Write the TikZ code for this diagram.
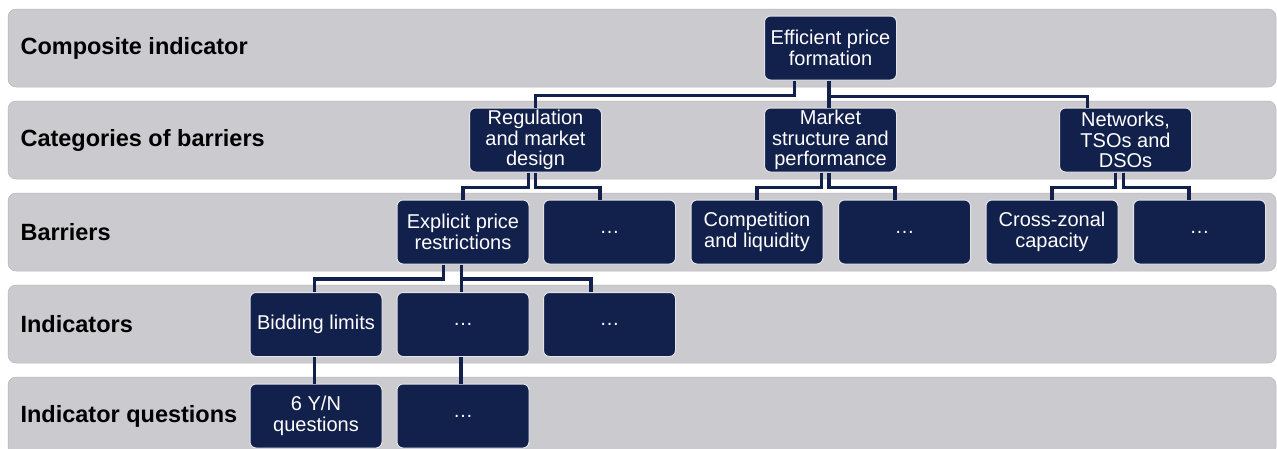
\documentclass[tikz,border=0pt]{standalone}
\usepackage{fontspec}
\setmainfont{Liberation Sans}
\usetikzlibrary{positioning, calc}
\definecolor{bandgray}{RGB}{203, 202, 207}
\definecolor{navy}{RGB}{18, 32, 76}

\begin{document}
\begin{tikzpicture}[x=1pt, y=-1pt,
        band/.style={
            fill=bandgray,
            draw=bandgray!90!black,
            line width=0.5pt,
            rounded corners=8pt
        },
        level/.style={
            anchor=west,
            font=\fontsize{23.5}{25}\selectfont\bfseries,
            text=black
        },
        cell/.style={
            rounded corners=6pt,
            fill=navy,
            draw=white!88!navy,
            line width=1pt,
            text=white,
            minimum width=132pt,
            minimum height=64pt,
            inner sep=1pt,
            align=center,
            font=\fontsize{20}{20.5}\selectfont
        },
        link/.style={draw=navy, line width=3.5pt}
    ]
        \useasboundingbox (0,0) rectangle (1277,448);
        \clip (0,0) rectangle (1277,448);
        \fill[white] (0,0) rectangle (1277,448);

        % grey bands with the level names
        \foreach \texto [count=\n] in {
            Composite indicator,
            Categories of barriers,
            Barriers,
            Indicators,
            Indicator questions
        } {
            \draw[band] (8,{9+92*(\n-1)}) rectangle (1276,{87+92*(\n-1)});
            \node[level] (level\n) at (17,{48+92*(\n-1)}) {\texto};
        }

        % tree boxes
        \node[cell] (efficient) at (830.5,48) {Efficient price\\formation};

        \node[cell] (regulation) at (535.5,140) {Regulation\\and market\\design};
        \node[cell] (structure) at (830.5,140) {Market\\structure and\\performance};
        \node[cell] (networks) at (1125.5,140) {Networks,\\TSOs and\\DSOs};

        \node[cell] (explicit) at (463,232) {Explicit price\\restrictions};
        \node[cell] (barrierA) at (609.5,232) {\dots};
        \node[cell] (competition) at (757,232) {Competition\\and liquidity};
        \node[cell] (barrierB) at (904.5,232) {\dots};
        \node[cell] (crosszonal) at (1052,232) {Cross-zonal\\capacity};
        \node[cell] (barrierC) at (1199.5,232) {\dots};

        \node[cell] (bidding) at (316,324.5) {Bidding limits};
        \node[cell] (indicatorA) at (463,324.5) {\dots};
        \node[cell] (indicatorB) at (609.5,324.5) {\dots};

        \node[cell] (questions) at (316,416) {6 Y/N\\questions};
        \node[cell] (questionsA) at (463,416) {\dots};

        % elbow connectors
        \draw[link] ([xshift=-36pt]efficient.south) -- ++(0,15) -| (regulation.north);
        \draw[link] ([xshift=-1.5pt]efficient.south) -- ([xshift=-1.5pt]structure.north);
        \draw[link] ([xshift=-1.5pt]efficient.south) -- ++(0,16) -| ([xshift=-38pt]networks.north);

        \draw[link] ([xshift=-7pt]regulation.south) -- ++(0,15) -| (explicit.north);
        \draw[link] (regulation.south) -- ++(0,15) -| ([xshift=-9.5pt]barrierA.north);
        \draw[link] ([xshift=-9pt]structure.south) -- ++(0,15) -| (competition.north);
        \draw[link] ([xshift=-1.5pt]structure.south) -- ++(0,15) -| ([xshift=-9.5pt]barrierB.north);
        \draw[link] ([xshift=-10pt]networks.south) -- ++(0,15) -| (crosszonal.north);
        \draw[link] ([xshift=-2pt]networks.south) -- ++(0,15) -| ([xshift=-10.5pt]barrierC.north);

        \draw[link] ([xshift=-19.5pt]explicit.south) -- ++(0,14.5) -| ([xshift=-1.5pt]bidding.north);
        \draw[link] ([xshift=-1.5pt]explicit.south) -- ([xshift=-1.5pt]indicatorA.north);
        \draw[link] ([xshift=-1.5pt]explicit.south) -- ++(0,14.5) -| ([xshift=-18.5pt]indicatorB.north);

        \draw[link] ([xshift=-1.5pt]bidding.south) -- ([xshift=-1.5pt]questions.north);
        \draw[link] ([xshift=-2pt]indicatorA.south) -- ([xshift=-2pt]questionsA.north);
    \end{tikzpicture}
\end{document}
